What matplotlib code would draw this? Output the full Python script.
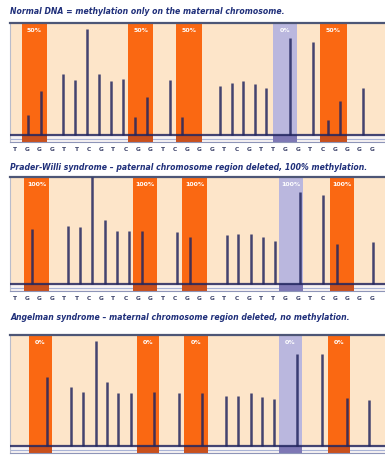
import matplotlib
matplotlib.use("Agg")
import matplotlib.pyplot as plt

# ---- data (x in scan units, heights as fraction of panel) ----
titles = [
    "Normal DNA = methylation only on the maternal chromosome.",
    "Prader-Willi syndrome \u2013 paternal chromosome region deleted, 100% methylation.",
    "Angelman syndrome \u2013 maternal chromosome region deleted, no methylation.",
]

peaks_x_1 = [28.3, 40.7, 63.3, 75, 87.3, 99, 111, 122.7, 135, 146.7, 170, 182.3,
             220, 232.3, 243.3, 255, 266, 290, 313.3, 328.3, 340, 363.3]
peaks_h_1 = [0.18, 0.39, 0.54, 0.49, 0.95, 0.54, 0.48, 0.50, 0.16, 0.34, 0.49, 0.16,
             0.44, 0.46, 0.48, 0.45, 0.42, 0.87, 0.83, 0.13, 0.30, 0.42]

peaks_x_2 = [32.3, 68.3, 80, 92.3, 105, 116.7, 129, 141.7, 177.3, 190,
             226.7, 238.3, 250.7, 263.3, 275, 300, 323.3, 336.7, 373.3]
peaks_h_2 = [0.51, 0.54, 0.53, 1.0, 0.60, 0.50, 0.50, 0.50, 0.49, 0.44,
             0.46, 0.47, 0.47, 0.44, 0.40, 0.86, 0.83, 0.37, 0.39]

peaks_x_3 = [46.7, 70.7, 83.3, 95.7, 106.7, 118.3, 130.7, 154, 179, 201.7,
             226, 238.3, 250.7, 262.3, 274, 297.3, 321.7, 346.7, 369.3]
peaks_h_3 = [0.62, 0.53, 0.49, 0.95, 0.58, 0.48, 0.48, 0.49, 0.48, 0.48,
             0.45, 0.45, 0.48, 0.44, 0.42, 0.83, 0.83, 0.43, 0.41]

cpg_bands_1 = [(21.7, 46.7), (128.3, 153.3), (176, 201.7), (320, 346.7)]
cpg_bands_2 = [(24, 49.3), (133.3, 157.3), (181.7, 207.3), (330, 354)]
cpg_bands_3 = [(29.3, 51.7), (136.7, 159.3), (184.3, 208.3), (328.3, 350)]
ctrl_band_1 = (273.3, 296.7)
ctrl_band_2 = (279.3, 302.7)
ctrl_band_3 = (279.3, 301.7)

band_labels = ["50%", "100%", "0%"]
ctrl_labels = ["0%", "100%", "0%"]

bases = list("TGGGTTCGTCGGTCGGGTCGTTGGTCGGGG")

# ---- style ----
PEACH = "#fde5c9"
ORANGE = "#fa6812"
ORANGE_DK = "#c9501c"
LAV = "#bab7de"
LAV_DK = "#7e78b5"
NAVY = "#23265f"
TXT = "#1f2f7a"

W, H = 385, 457
fig = plt.figure(figsize=(W / 100, H / 100), dpi=100)

# pixel layout: (title_y, box_top, box_bottom)
layout = [(12, 23, 142), (168, 177, 291), (318, 335, 453)]
peaks = [(peaks_x_1, peaks_h_1), (peaks_x_2, peaks_h_2), (peaks_x_3, peaks_h_3)]
bands = [cpg_bands_1, cpg_bands_2, cpg_bands_3]
ctrls = [ctrl_band_1, ctrl_band_2, ctrl_band_3]

left, right = 10, 392
ylo = -0.065

for i in range(3):
    ty, top, bot = layout[i]
    fig.text(left / W, 1 - ty / H, titles[i], color=TXT, fontsize=5.6,
             fontweight="bold", fontstyle="italic", va="center", ha="left")
    ax = fig.add_axes([left / W, 1 - bot / H, (right - left) / W, (bot - top) / H])
    ax.set_xlim(left, right)
    ax.set_ylim(ylo, 1.0)
    ax.set_facecolor(PEACH)
    # strip under the baseline
    ax.axhspan(ylo, -0.005, color="#f7f3f3", zorder=0.5)
    ax.axhline(-0.035, color="#a9b3d6", lw=0.8, zorder=0.6)

    for (x0, x1) in bands[i]:
        ax.axvspan(x0, x1, color=ORANGE, lw=0, zorder=1)
        ax.fill_between([x0, x1], ylo, 0.0, color=ORANGE_DK, lw=0, zorder=1.1)
        ax.text((x0 + x1) / 2, 0.93, band_labels[i], color="white", fontsize=4.5,
                fontweight="bold", ha="center", va="center", zorder=5)
    cx0, cx1 = ctrls[i]
    ax.axvspan(cx0, cx1, color=LAV, lw=0, zorder=1)
    ax.fill_between([cx0, cx1], ylo, 0.0, color=LAV_DK, lw=0, zorder=1.1)
    ax.text((cx0 + cx1) / 2, 0.93, ctrl_labels[i], color="white", fontsize=4.5,
            fontweight="bold", ha="center", va="center", zorder=5)

    px, ph = peaks[i]
    ax.vlines(px, 0, ph, color=NAVY, lw=1.8, alpha=0.85, zorder=3)
    ax.axhline(0, color=NAVY, lw=1.6, alpha=0.85, zorder=3)

    # base calls under the first two traces (third panel runs off the page)
    if i < 2:
        for k, b in enumerate(bases):
            ax.text(15 + 12.3 * k, ylo - 0.07, b, color="#3a4068", fontsize=4.2,
                    fontweight="bold", ha="center", va="center", clip_on=False)

    ax.set_xticks([])
    ax.set_yticks([])
    ax.spines["right"].set_visible(False)
    ax.spines["top"].set_color("#4d5676")
    ax.spines["top"].set_linewidth(1.6)
    ax.spines["left"].set_color("#b9bccb")
    ax.spines["left"].set_linewidth(0.8)
    ax.spines["bottom"].set_color("#8e95b8")
    ax.spines["bottom"].set_linewidth(0.8)

fig.savefig("out.png", dpi=100, facecolor="white")
